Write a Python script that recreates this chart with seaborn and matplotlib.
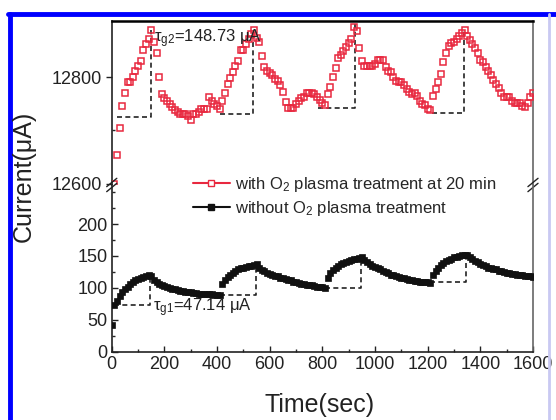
import numpy as np
import seaborn as sns
import matplotlib.pyplot as plt
from matplotlib.lines import Line2D
from matplotlib.ticker import MultipleLocator, FixedLocator

# time axes (s)
time_red = np.arange(10, 1601, 10)
time_blk = np.arange(0, 1601, 10)

# current with O2 plasma treatment (uA)
with_o2 = [
    12600, 12655, 12705, 12745, 12770, 12790, 12790, 12800, 12811, 12820,   # 10-100
    12831, 12851, 12862, 12872, 12888, 12866, 12845, 12800, 12768, 12760,   # 110-200
    12756, 12750, 12744, 12738, 12735, 12730, 12730, 12730, 12728, 12720,   # 210-300
    12730, 12730, 12735, 12741, 12741, 12741, 12762, 12756, 12750, 12746,   # 310-400
    12741, 12755, 12771, 12787, 12798, 12809, 12820, 12831, 12850, 12851,   # 410-500
    12862, 12871, 12880, 12888, 12873, 12866, 12840, 12818, 12811, 12807,   # 510-600
    12803, 12797, 12792, 12786, 12773, 12754, 12742, 12742, 12742, 12750,   # 610-700
    12756, 12760, 12763, 12770, 12770, 12770, 12768, 12762, 12757, 12752,   # 710-800
    12747, 12768, 12782, 12800, 12817, 12835, 12842, 12848, 12856, 12863,   # 810-900
    12872, 12894, 12886, 12855, 12830, 12821, 12821, 12821, 12821, 12824,   # 910-1000
    12832, 12832, 12832, 12818, 12811, 12810, 12800, 12793, 12790, 12790,   # 1010-1100
    12785, 12778, 12773, 12769, 12770, 12765, 12756, 12750, 12747, 12741,   # 1110-1200
    12738, 12765, 12777, 12790, 12805, 12828, 12846, 12858, 12863, 12865,   # 1210-1300
    12872, 12877, 12882, 12888, 12877, 12870, 12862, 12855, 12845, 12832,   # 1310-1400
    12829, 12818, 12811, 12804, 12795, 12787, 12779, 12771, 12762, 12762,   # 1410-1500
    12762, 12756, 12752, 12752, 12752, 12746, 12744, 12752, 12762, 12771,   # 1510-1600
]

# current without O2 plasma treatment (uA)
without_o2 = [
    42, 73, 80, 88, 94, 98, 102, 106, 109, 112,          # 0-90
    114, 115, 117, 118, 120, 119, 113, 109, 106, 104,    # 100-190
    103, 102, 100, 99, 98, 97, 96, 95, 94, 93,           # 200-290
    93, 92, 92, 91, 91, 90, 90, 90, 90, 89,              # 300-390
    89, 89, 106, 112, 117, 121, 124, 127, 129, 131,      # 400-490
    132, 133, 134, 135, 136, 137, 131, 128, 126, 124,    # 500-590
    122, 121, 119, 118, 116, 115, 114, 113, 112, 110,    # 600-690
    109, 108, 107, 106, 105, 104, 104, 103, 102, 102,    # 700-790
    101, 100, 116, 123, 128, 132, 135, 137, 139, 141,    # 800-890
    142, 144, 145, 146, 147, 148, 143, 140, 138, 135,    # 900-990
    133, 131, 129, 127, 125, 123, 121, 120, 119, 117,    # 1000-1090
    116, 115, 114, 113, 112, 111, 111, 110, 110, 109,    # 1100-1190
    109, 108, 120, 127, 132, 136, 139, 142, 144, 146,    # 1200-1290
    148, 149, 150, 151, 152, 152, 148, 145, 142, 140,    # 1300-1390
    138, 136, 134, 132, 131, 130, 129, 127, 126, 125,    # 1400-1490
    124, 123, 122, 122, 121, 120, 120, 119, 118, 118,    # 1500-1590
    117,                                                  # 1600
]

# dashed guides: start time, peak time, base level, peak level
red_t0 = [20, 411, 785, 1215]
red_tp = [148, 537, 924, 1339]
red_base = [12725, 12731, 12742, 12733]
red_peak = [12888, 12888, 12900, 12888]

blk_t0 = [10, 411, 810, 1210]
blk_tp = [145, 548, 948, 1345]
blk_base = [73, 89, 100, 109]
blk_peak = [120, 137, 148, 152]

red = '#e8283f'

sns.set_theme(style='ticks')
plt.rcParams['font.family'] = ['Liberation Sans', 'DejaVu Sans']
plt.rcParams['mathtext.fontset'] = 'custom'
plt.rcParams['mathtext.rm'] = 'Liberation Sans'
plt.rcParams['mathtext.it'] = 'Liberation Sans:italic'

fig = plt.figure(figsize=(5.56, 4.2), dpi=100)
gs = fig.add_gridspec(2, 1, height_ratios=[164, 167], hspace=0,
                      left=0.201, right=0.9586, top=0.95, bottom=0.162)
ax_top = fig.add_subplot(gs[0])
ax_bot = fig.add_subplot(gs[1], sharex=ax_top)

sns.lineplot(x=time_red, y=with_o2, ax=ax_top, marker='s', markersize=4.3,
             linestyle='', mfc='none', mec=red, mew=1.1, color=red, zorder=3)
sns.lineplot(x=time_blk, y=without_o2, ax=ax_bot, marker='s', markersize=5,
             linestyle='', mfc='#111111', mec='#111111', mew=0.5, color='#111111', zorder=3)

for t0, tp, b, p in zip(red_t0, red_tp, red_base, red_peak):
    ax_top.plot([t0, tp, tp], [b, b, p], ls=(0, (3, 2)), color='#222222', lw=1.2, zorder=2)
for t0, tp, b, p in zip(blk_t0, blk_tp, blk_base, blk_peak):
    ax_bot.plot([t0, tp, tp], [b, b, p], ls=(0, (3, 2)), color='#222222', lw=1.2, zorder=2)

ax_top.set_ylim(12598, 12905)
ax_bot.set_ylim(0, 261)
ax_bot.set_xlim(0, 1600)

ax_top.yaxis.set_major_locator(FixedLocator([12600, 12800]))
ax_top.yaxis.set_minor_locator(FixedLocator([12700]))
ax_bot.yaxis.set_major_locator(FixedLocator([0, 50, 100, 150, 200]))
ax_bot.yaxis.set_minor_locator(FixedLocator([25, 75, 125, 175, 225, 250]))
ax_bot.xaxis.set_major_locator(MultipleLocator(200))
ax_bot.xaxis.set_minor_locator(MultipleLocator(100))

for ax in (ax_top, ax_bot):
    ax.tick_params(which='major', direction='in', length=4, width=1, labelsize=13,
                   colors='#222222', pad=3)
    ax.tick_params(which='minor', direction='in', length=2, width=1)
    ax.set_xlabel('')
    ax.set_ylabel('')
    for s in ax.spines.values():
        s.set_linewidth(1.2)
        s.set_color('#222222')
    ax.spines['right'].set_color('#666666')

ax_top.spines['bottom'].set_visible(False)
ax_bot.spines['top'].set_visible(False)
ax_top.spines['top'].set_linewidth(1.8)
ax_top.spines['top'].set_color('#000000')
ax_top.tick_params(axis='x', which='both', bottom=False, labelbottom=False)
ax_top.tick_params(axis='y', which='major', direction='out', length=4)

# break marks on both spines
for xf in (0.0, 1.0):
    for dy in (-0.006, 0.006):
        ax_bot.plot([xf - 0.012, xf + 0.012], [1 + dy / 0.4 - 0.025, 1 + dy / 0.4 + 0.025],
                    transform=ax_bot.transAxes, color='#222222', lw=1.0, clip_on=False)

ax_top.text(160, 12872, 'τ$_{\\rm g2}$=148.73 μA', fontsize=12, color='#222222',
            va='center', ha='left')
ax_bot.text(157, 69, 'τ$_{\\rm g1}$=47.14 μA', fontsize=12, color='#222222',
            va='center', ha='left')

handles = [
    Line2D([], [], color=red, lw=1.5, marker='s', markersize=4, mfc='white', mec=red, mew=1),
    Line2D([], [], color='#111111', lw=1.5, marker='s', markersize=4, mfc='#111111', mec='#111111'),
]
labels = ['with O$_2$ plasma treatment at 20 min', 'without O$_2$ plasma treatment']
fig.legend(handles, labels, loc='upper left', bbox_to_anchor=(0.335, 0.6),
           frameon=False, fontsize=12, handlelength=2.2, handletextpad=0.3,
           labelspacing=0.3, borderaxespad=0)

fig.text(0.042, 0.58, 'Current(μA)', rotation=90, ha='center', va='center',
         fontsize=18, color='#222222')
fig.text(0.575, 0.035, 'Time(sec)', ha='center', va='center', fontsize=18, color='#222222')

# blue frame around the figure
fig.add_artist(Line2D([10 / 556, 10 / 556], [0, 1 - 14 / 420], transform=fig.transFigure,
                      color='#0000ff', lw=3.5))
fig.add_artist(Line2D([8 / 556, 1], [1 - 14 / 420, 1 - 14 / 420], transform=fig.transFigure,
                      color='#0000ff', lw=3.5))
fig.add_artist(Line2D([549 / 556, 549 / 556], [0, 1 - 14 / 420], transform=fig.transFigure,
                      color='#c9c9f2', lw=2))

fig.savefig('out.png', dpi=100)
